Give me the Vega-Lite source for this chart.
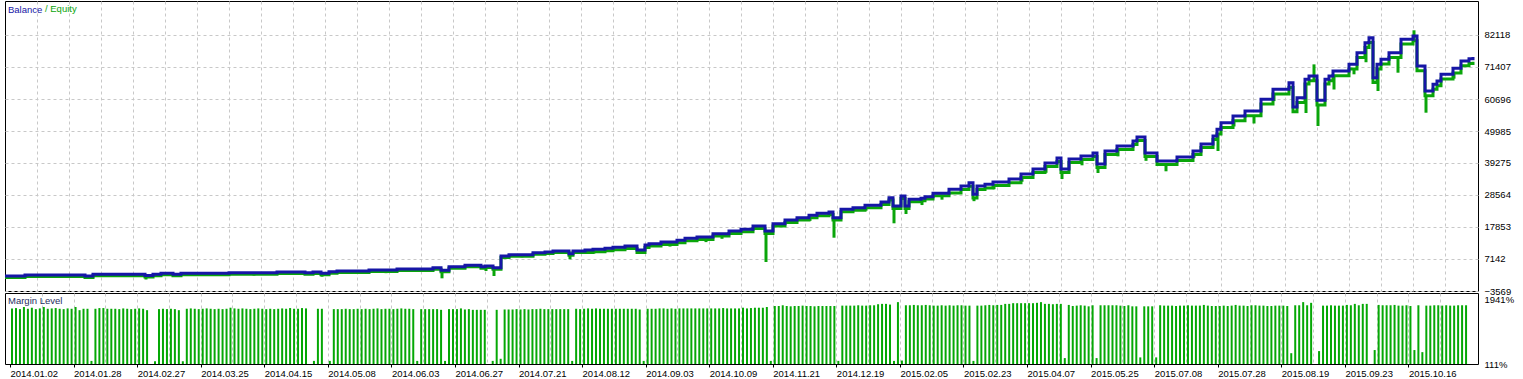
{
"$schema": "https://vega.github.io/schema/vega-lite/v6.json",
"padding": {"left": 4, "top": 0, "right": 0, "bottom": 0},
"bounds": "flush",
"spacing": 2,
"title": {"text": "/ Equity", "anchor": "start", "orient": "top", "frame": "group", "offset": -13, "dx": 40, "font": "Liberation Sans", "fontSize": 9.5, "fontWeight": "normal", "color": "#0aa50a"},
"datasets": {
"curve": [
{"n":0,"b":1450,"e":950},{"n":5,"b":1785,"e":1285},{"n":20,"b":1450,"e":950,"d":450},{"n":22,"b":2020,"e":1520},
{"n":35,"b":1620,"e":1120,"d":280},{"n":37,"b":2020,"e":1520},{"n":39,"b":2350,"e":1850},{"n":42,"b":2020,"e":1520,"d":1115},
{"n":44,"b":2350,"e":1850},{"n":50,"b":2350,"e":1850,"d":1500},{"n":56,"b":2555,"e":2055},{"n":62,"b":2555,"e":2055,"d":1600},
{"n":68,"b":2790,"e":2290},{"n":75,"b":2555,"e":2055,"d":1785},{"n":77,"b":2790,"e":2290},{"n":79,"b":2350,"e":1850,"d":1215},
{"n":81,"b":2890,"e":2390},{"n":83,"b":3124,"e":2624},{"n":91,"b":3459,"e":2959},{"n":95,"b":3459,"e":2959,"d":2400},
{"n":98,"b":3793,"e":3293},{"n":107,"b":4240,"e":3740},{"n":109,"b":3358,"e":2858,"d":675},{"n":111,"b":4574,"e":4074},
{"n":115,"b":5030,"e":4530},{"n":119,"b":4574,"e":4074},{"n":120,"b":4797,"e":4297,"d":3124},{"n":122,"b":4240,"e":3740,"d":1450},
{"n":124,"b":8144,"e":7644},{"n":126,"b":8600,"e":8100},{"n":129,"b":8600,"e":8100,"d":7700},{"n":132,"b":9237,"e":8737},
{"n":135,"b":9483,"e":8983},{"n":137,"b":9818,"e":9318},{"n":141,"b":8911,"e":8411,"d":7040},{"n":142,"b":9818,"e":9318},
{"n":145,"b":10153,"e":9353},{"n":147,"b":10374,"e":9574,"d":9000},{"n":150,"b":10710,"e":9910},{"n":152,"b":11057,"e":10257},
{"n":155,"b":11492,"e":10692},{"n":158,"b":10153,"e":9353,"d":8900},{"n":160,"b":11827,"e":11027},{"n":161,"b":12260,"e":11460},
{"n":164,"b":12823,"e":12023},{"n":166,"b":12823,"e":12023,"d":11300},{"n":168,"b":13380,"e":12580},{"n":170,"b":14070,"e":13270},
{"n":173,"b":14500,"e":13700},{"n":175,"b":14500,"e":13700,"d":12800},{"n":177,"b":15614,"e":14814},{"n":179,"b":15614,"e":14814,"d":13900},
{"n":181,"b":16512,"e":15712},{"n":184,"b":17070,"e":16270},{"n":187,"b":18186,"e":17386},{"n":190,"b":16512,"e":15712,"d":6136},
{"n":192,"b":18960,"e":18160},{"n":195,"b":20196,"e":19396,"d":19000},{"n":198,"b":20965,"e":20165},{"n":201,"b":21772,"e":20972,"d":19900},
{"n":203,"b":22430,"e":21630},{"n":206,"b":22870,"e":22070},{"n":207,"b":20965,"e":20165,"d":14270},{"n":209,"b":23765,"e":22965},
{"n":212,"b":24300,"e":23500},{"n":215,"b":25107,"e":24307,"d":23300},{"n":219,"b":26218,"e":25418},{"n":221,"b":27659,"e":26859},
{"n":222,"b":24880,"e":24080,"d":19090},{"n":224,"b":28228,"e":27428},{"n":225,"b":24880,"e":24080,"d":22200},{"n":226,"b":27124,"e":26324},
{"n":229,"b":27460,"e":26660,"d":25200},{"n":230,"b":28000,"e":27200},{"n":232,"b":29130,"e":28330},{"n":234,"b":29130,"e":28330,"d":27000},
{"n":236,"b":30464,"e":29264},{"n":239,"b":31575,"e":30375},{"n":241,"b":32660,"e":31460},{"n":242,"b":28800,"e":27600,"d":26500},
{"n":243,"b":31575,"e":30375},{"n":245,"b":32140,"e":30940},{"n":247,"b":32913,"e":31713,"d":30500},{"n":251,"b":33900,"e":32700},
{"n":254,"b":35600,"e":34400,"d":33000},{"n":257,"b":37270,"e":36070},{"n":260,"b":39270,"e":38070,"d":36000},{"n":263,"b":40950,"e":39750},
{"n":264,"b":37270,"e":36070,"d":33900},{"n":266,"b":40610,"e":39410},{"n":269,"b":41616,"e":40416,"d":38500},{"n":272,"b":42620,"e":41420},
{"n":273,"b":38940,"e":37740,"d":35920},{"n":275,"b":43290,"e":42090},{"n":278,"b":44964,"e":43764,"d":41500},{"n":282,"b":46637,"e":45437},
{"n":283,"b":48000,"e":46800},{"n":285,"b":42620,"e":41420,"d":40000},{"n":288,"b":39943,"e":38743},{"n":290,"b":39943,"e":38743,"d":36500},
{"n":293,"b":41280,"e":40080},{"n":297,"b":43290,"e":42090,"d":41000},{"n":299,"b":45630,"e":44430},{"n":302,"b":48310,"e":47110},
{"n":303,"b":50550,"e":48950,"d":43290},{"n":304,"b":52760,"e":51160},{"n":307,"b":55005,"e":53405,"d":51500},{"n":310,"b":56680,"e":55080},
{"n":312,"b":56680,"e":55080,"d":52500},{"n":314,"b":60590,"e":58990},{"n":317,"b":63930,"e":62330,"d":60000},{"n":321,"b":66150,"e":64550},
{"n":322,"b":58020,"e":56420},{"n":323,"b":61130,"e":59530},{"n":325,"b":67290,"e":65690,"d":56000},{"n":326,"b":68394,"e":66794},
{"n":327,"b":68394,"e":66794,"d":72290},{"n":328,"b":60260,"e":58660,"d":51660},{"n":330,"b":67290,"e":65690},{"n":331,"b":68394,"e":66794},
{"n":332,"b":70068,"e":68468,"d":63870},{"n":336,"b":72310,"e":70710},{"n":337,"b":72310,"e":70710,"d":68960},{"n":338,"b":76190,"e":74590},
{"n":340,"b":79540,"e":77940,"d":73000},{"n":341,"b":81210,"e":79610},{"n":342,"b":67830,"e":66230},{"n":343,"b":72310,"e":70710,"d":63370},
{"n":344,"b":73990,"e":72390},{"n":346,"b":76190,"e":74590},{"n":348,"b":76190,"e":74590,"d":69500},{"n":349,"b":80680,"e":79080},
{"n":352,"b":81780,"e":80180,"d":83690},{"n":353,"b":71740,"e":70140},{"n":355,"b":63370,"e":61770,"d":56110},{"n":357,"b":65600,"e":64000},
{"n":358,"b":66720,"e":65120},{"n":359,"b":68960,"e":67360},{"n":362,"b":71000,"e":69400,"d":67500},{"n":364,"b":73415,"e":71815},
{"n":366,"b":74200,"e":72600},{"n":367,"b":74770,"e":73170}
],
"margin": [
{"k":0,"m":1700},{"k":1,"m":1710},{"k":2,"m":1680},{"k":3,"m":1740},{"k":4,"m":1690},{"k":5,"m":1720},{"k":6,"m":1680},{"k":7,"m":1700},{"k":8,"m":1740},{"k":9,"m":1690},
{"k":10,"m":1700},{"k":11,"m":1710},{"k":12,"m":1690},{"k":13,"m":1680},{"k":14,"m":1700},{"k":15,"m":1690},{"k":16,"m":1740},{"k":17,"m":1650},{"k":18,"m":1690},{"k":19,"m":1690},
{"k":20,"m":200},{"k":21,"m":1690},{"k":22,"m":1710},{"k":23,"m":1710},{"k":24,"m":1690},{"k":25,"m":1690},{"k":26,"m":1690},{"k":27,"m":1680},{"k":28,"m":1700},{"k":29,"m":1690},
{"k":30,"m":1680},{"k":31,"m":1690},{"k":32,"m":1700},{"k":33,"m":1690},{"k":34,"m":1650},{"k":36,"m":190},{"k":37,"m":1680},{"k":38,"m":1690},{"k":39,"m":1680},
{"k":40,"m":1690},{"k":41,"m":1680},{"k":42,"m":1650},{"k":43,"m":190},{"k":44,"m":1690},{"k":45,"m":1700},{"k":46,"m":1690},{"k":47,"m":1680},{"k":48,"m":1690},{"k":49,"m":1700},
{"k":50,"m":1690},{"k":51,"m":1680},{"k":52,"m":1690},{"k":53,"m":1680},{"k":54,"m":1690},{"k":55,"m":1720},{"k":56,"m":1700},{"k":57,"m":1690},{"k":58,"m":1700},{"k":59,"m":1690},
{"k":60,"m":1680},{"k":61,"m":1690},{"k":62,"m":1700},{"k":63,"m":1690},{"k":64,"m":1680},{"k":65,"m":1690},{"k":66,"m":1680},{"k":67,"m":1690},{"k":68,"m":1700},{"k":69,"m":1690},
{"k":70,"m":1710},{"k":71,"m":1690},{"k":72,"m":1690},{"k":73,"m":1710},{"k":74,"m":1700},{"k":76,"m":200},{"k":77,"m":1690},{"k":78,"m":1690},
{"k":80,"m":200},{"k":81,"m":1680},{"k":82,"m":1680},{"k":83,"m":1680},{"k":84,"m":1690},{"k":85,"m":1680},{"k":86,"m":1680},{"k":87,"m":1690},{"k":88,"m":1680},{"k":89,"m":1690},
{"k":90,"m":1680},{"k":91,"m":1690},{"k":92,"m":1700},{"k":93,"m":1680},{"k":94,"m":1690},{"k":95,"m":1690},{"k":96,"m":1680},{"k":97,"m":1690},{"k":98,"m":1700},{"k":99,"m":1690},
{"k":100,"m":1690},{"k":101,"m":1680},{"k":102,"m":200},{"k":103,"m":1680},{"k":104,"m":1680},{"k":105,"m":1680},{"k":106,"m":1680},{"k":107,"m":1680},{"k":108,"m":1660},{"k":109,"m":200},
{"k":110,"m":1680},{"k":111,"m":1680},{"k":112,"m":1680},{"k":113,"m":1700},{"k":114,"m":1670},{"k":115,"m":1680},{"k":116,"m":1660},{"k":117,"m":1660},{"k":118,"m":1660},{"k":119,"m":1660},
{"k":121,"m":200},{"k":122,"m":1660},{"k":123,"m":260},{"k":124,"m":1670},{"k":125,"m":1670},{"k":126,"m":1670},{"k":127,"m":1680},{"k":128,"m":1670},{"k":129,"m":1680},
{"k":130,"m":1670},{"k":131,"m":1680},{"k":132,"m":1680},{"k":133,"m":1690},{"k":134,"m":1680},{"k":135,"m":1680},{"k":136,"m":1680},{"k":137,"m":1680},{"k":138,"m":1680},{"k":139,"m":1680},
{"k":140,"m":1680},{"k":141,"m":200},{"k":142,"m":1690},{"k":143,"m":1680},{"k":144,"m":1690},{"k":145,"m":1700},{"k":146,"m":1690},{"k":147,"m":1700},{"k":148,"m":1690},{"k":149,"m":1690},
{"k":150,"m":1690},{"k":151,"m":1690},{"k":152,"m":1690},{"k":153,"m":1690},{"k":154,"m":1690},{"k":155,"m":1690},{"k":156,"m":1690},{"k":157,"m":1690},{"k":158,"m":1670},{"k":159,"m":200},
{"k":160,"m":1690},{"k":161,"m":1690},{"k":162,"m":1690},{"k":163,"m":1700},{"k":164,"m":1700},{"k":165,"m":1690},{"k":166,"m":1700},{"k":167,"m":1690},{"k":168,"m":1700},{"k":169,"m":1700},
{"k":170,"m":1700},{"k":171,"m":1700},{"k":172,"m":1700},{"k":173,"m":1700},{"k":174,"m":1700},{"k":175,"m":1700},{"k":176,"m":1700},{"k":177,"m":1700},{"k":178,"m":1700},{"k":179,"m":1710},
{"k":180,"m":1700},{"k":181,"m":1700},{"k":182,"m":1700},{"k":183,"m":1700},{"k":184,"m":1720},{"k":185,"m":1700},{"k":186,"m":1710},{"k":187,"m":1720},{"k":188,"m":1720},{"k":189,"m":1720},
{"k":190,"m":1740},{"k":191,"m":200},{"k":192,"m":1770},{"k":193,"m":1770},{"k":194,"m":1790},{"k":195,"m":1770},{"k":196,"m":1760},{"k":197,"m":1770},{"k":198,"m":1770},{"k":199,"m":1780},
{"k":200,"m":1770},{"k":201,"m":1770},{"k":202,"m":1760},{"k":203,"m":1770},{"k":204,"m":1770},{"k":205,"m":1770},{"k":206,"m":1770},{"k":207,"m":1770},{"k":208,"m":200},{"k":209,"m":1780},
{"k":210,"m":1780},{"k":211,"m":1780},{"k":212,"m":1780},{"k":213,"m":1790},{"k":214,"m":1780},{"k":215,"m":1780},{"k":216,"m":1790},{"k":217,"m":1790},{"k":218,"m":1820},{"k":219,"m":1830},
{"k":220,"m":1830},{"k":221,"m":1810},{"k":222,"m":200},{"k":223,"m":1880},{"k":224,"m":210},{"k":225,"m":1790},{"k":226,"m":1790},{"k":227,"m":1800},{"k":228,"m":1790},{"k":229,"m":1790},
{"k":230,"m":1800},{"k":231,"m":1790},{"k":232,"m":1780},{"k":233,"m":1780},{"k":234,"m":1790},{"k":235,"m":1780},{"k":236,"m":1790},{"k":237,"m":1780},{"k":238,"m":1790},{"k":239,"m":1790},
{"k":240,"m":1780},{"k":241,"m":1780},{"k":242,"m":200},{"k":243,"m":1780},{"k":244,"m":1780},{"k":245,"m":1790},{"k":246,"m":1800},{"k":247,"m":1790},{"k":248,"m":1800},{"k":249,"m":1800},
{"k":250,"m":1830},{"k":251,"m":1830},{"k":252,"m":1850},{"k":253,"m":1850},{"k":254,"m":1850},{"k":255,"m":1850},{"k":256,"m":1850},{"k":257,"m":1850},{"k":258,"m":1860},{"k":259,"m":1880},
{"k":260,"m":1830},{"k":261,"m":1830},{"k":262,"m":1820},{"k":263,"m":1830},{"k":264,"m":1830},{"k":265,"m":280},{"k":266,"m":1800},{"k":267,"m":1770},{"k":268,"m":1780},{"k":269,"m":1790},
{"k":270,"m":1780},{"k":271,"m":1760},{"k":272,"m":1790},{"k":273,"m":280},{"k":274,"m":1790},{"k":275,"m":1790},{"k":276,"m":1790},{"k":277,"m":1790},{"k":278,"m":1790},{"k":279,"m":1780},
{"k":280,"m":1770},{"k":281,"m":1790},{"k":282,"m":1760},{"k":283,"m":1760},{"k":284,"m":300},{"k":285,"m":1760},{"k":286,"m":1760},{"k":287,"m":1760},{"k":288,"m":300},{"k":289,"m":1790},
{"k":290,"m":1780},{"k":291,"m":1780},{"k":292,"m":1780},{"k":293,"m":1770},{"k":294,"m":1780},{"k":295,"m":1780},{"k":296,"m":1790},{"k":297,"m":1780},{"k":298,"m":1780},{"k":299,"m":1780},
{"k":300,"m":1800},{"k":301,"m":1780},{"k":302,"m":1770},{"k":303,"m":1770},{"k":304,"m":1770},{"k":305,"m":1780},{"k":306,"m":1770},{"k":307,"m":1780},{"k":308,"m":1800},{"k":309,"m":1780},
{"k":310,"m":1780},{"k":311,"m":1770},{"k":312,"m":1790},{"k":313,"m":1790},{"k":314,"m":1780},{"k":315,"m":1780},{"k":316,"m":1770},{"k":317,"m":1770},{"k":318,"m":1780},{"k":319,"m":1780},
{"k":320,"m":1780},{"k":321,"m":1770},{"k":322,"m":420},{"k":323,"m":1790},{"k":324,"m":1790},{"k":325,"m":1880},{"k":326,"m":1790},{"k":327,"m":1860},{"k":329,"m":480},
{"k":330,"m":1780},{"k":331,"m":1780},{"k":332,"m":1790},{"k":333,"m":1780},{"k":334,"m":1780},{"k":335,"m":1780},{"k":336,"m":1800},{"k":337,"m":1790},{"k":338,"m":1830},{"k":339,"m":1790},
{"k":340,"m":1830},{"k":341,"m":1830},{"k":343,"m":510},{"k":344,"m":1800},{"k":345,"m":1790},{"k":346,"m":1790},{"k":347,"m":1790},{"k":348,"m":1800},{"k":349,"m":1780},
{"k":350,"m":1780},{"k":351,"m":1790},{"k":352,"m":1770},{"k":353,"m":510},{"k":354,"m":1790},{"k":355,"m":450},{"k":356,"m":1780},{"k":357,"m":1780},{"k":358,"m":1790},{"k":359,"m":1790},
{"k":360,"m":1780},{"k":361,"m":1790},{"k":362,"m":1780},{"k":363,"m":1780},{"k":364,"m":1790},{"k":365,"m":1790},{"k":366,"m":1790}
]
},
"vconcat": [
{
"width": 1473, "height": 290,
"data": {"name": "curve"},
"title": {"text": "Balance", "anchor": "start", "orient": "top", "frame": "group", "offset": -13, "dx": 3, "font": "Liberation Sans", "fontSize": 9.5, "fontWeight": "normal", "color": "#1616a6"},
"encoding": {
"x": {"field": "n", "type": "quantitative", "scale": {"domain": [0, 368.25], "nice": false, "zero": false},
 "axis": {"values": [8,16,24,32,40,48,56,64,72,80,88,96,104,112,120,128,136,144,152,160,168,176,184,192,200,208,216,224,232,240,248,256,264,272,280,288,296,304,312,320,328,336,344,352,360], "tickCount": 100, "labels": false, "ticks": false, "domain": false, "grid": true, "title": null}}
},
"layer": [
{"transform": [{"filter": "isValid(datum.d)"}],
 "mark": {"type": "rule", "color": "#0aa50a", "strokeWidth": 3, "xOffset": 1, "clip": true},
 "encoding": {
  "y": {"field": "d", "type": "quantitative", "scale": {"domain": [-3569, 93498], "nice": false, "zero": false},
   "axis": {"orient": "right", "values": [-3569, 7142, 17853, 28564, 39275, 49985, 60696, 71407, 82118], "tickCount": 100, "format": "d", "grid": true, "ticks": false, "domain": false, "labelPadding": 6, "labelOverlap": false, "title": null}},
  "y2": {"field": "e"}
 }},
{"mark": {"type": "line", "interpolate": "step-after", "strokeWidth": 3, "color": "#0aa50a", "clip": true},
 "encoding": {
  "y": {"field": "e", "type": "quantitative",
   "axis": {"orient": "right", "values": [-3569, 7142, 17853, 28564, 39275, 49985, 60696, 71407, 82118], "tickCount": 100, "format": "d", "grid": true, "ticks": false, "domain": false, "labelPadding": 6, "labelOverlap": false, "title": null}}
 }},
{"mark": {"type": "line", "interpolate": "step-after", "strokeWidth": 3, "color": "#1616a6", "clip": true},
 "encoding": {
  "y": {"field": "b", "type": "quantitative",
   "axis": {"orient": "right", "values": [-3569, 7142, 17853, 28564, 39275, 49985, 60696, 71407, 82118], "tickCount": 100, "format": "d", "grid": true, "ticks": false, "domain": false, "labelPadding": 6, "labelOverlap": false, "title": null}}
 }}
]
},
{
"width": 1473, "height": 71,
"data": {"name": "margin"},
"title": {"text": "Margin Level", "anchor": "start", "orient": "top", "frame": "group", "offset": -12, "dx": 3, "font": "Liberation Sans", "fontSize": 9.5, "fontWeight": "normal", "color": "#1e2e5e"},
"mark": {"type": "bar", "color": "#05a805", "size": 2, "xOffset": 2, "clip": true},
"encoding": {
 "x": {"field": "k", "type": "quantitative", "scale": {"domain": [0, 368.25], "nice": false, "zero": false},
  "axis": {"values": [0,8,16,24,32,40,48,56,64,72,80,88,96,104,112,120,128,136,144,152,160,168,176,184,192,200,208,216,224,232,240,248,256,264,272,280,288,296,304,312,320,328,336,344,352,360], "tickCount": 100,
   "grid": true, "gridOpacity": {"condition": {"test": "datum.value == 0", "value": 0}, "value": 1},
   "ticks": true, "tickSize": 3, "tickColor": "#000000", "tickOpacity": {"condition": {"test": "datum.value % 16 == 0", "value": 1}, "value": 0},
   "domain": false, "labelAlign": "left", "labelPadding": 1, "labelFlush": false, "labelOverlap": false, "title": null,
   "labelExpr": "datum.value % 16 == 0 ? ['2014.01.02','2014.01.28','2014.02.27','2014.03.25','2014.04.15','2014.05.08','2014.06.03','2014.06.27','2014.07.21','2014.08.12','2014.09.03','2014.10.09','2014.11.21','2014.12.19','2015.02.05','2015.02.23','2015.04.07','2015.05.25','2015.07.08','2015.07.28','2015.08.19','2015.09.23','2015.10.16'][datum.value / 16] : ''"}},
 "y": {"field": "m", "type": "quantitative", "scale": {"domain": [111, 2141], "nice": false, "zero": false},
  "axis": {"orient": "right", "values": [111, 1941], "labelExpr": "datum.value + '%'", "grid": false, "ticks": false, "domain": false, "labelPadding": 6, "labelOverlap": false, "title": null}}
}
}
],
"config": {
 "view": {"stroke": "#000000", "strokeWidth": 1},
 "font": "Liberation Sans",
 "axis": {"labelFont": "Liberation Sans", "labelFontSize": 9.5, "labelColor": "#000000", "gridColor": "#c8c8c8", "gridDash": [3, 3], "gridWidth": 1}
}
}
